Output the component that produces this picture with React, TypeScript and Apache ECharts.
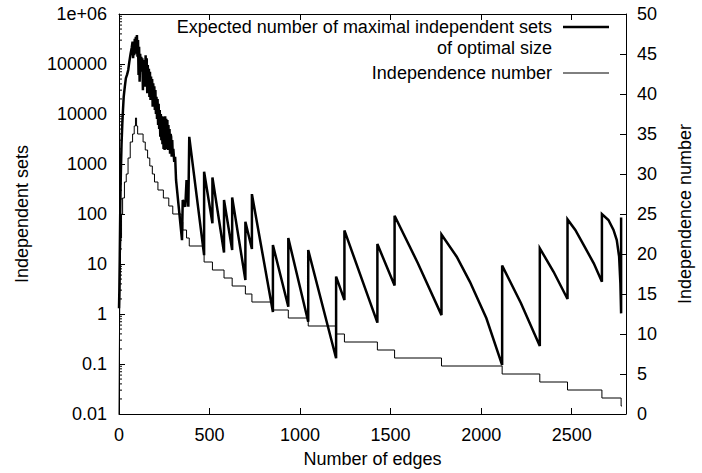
import React, { useEffect, useRef } from "react";
import * as echarts from "echarts";

// ---- Axis tick labels ----
const xTickValues = [0, 500, 1000, 1500, 2000, 2500];
const leftTickLabels = ["0.01", "0.1", "1", "10", "100", "1000", "10000", "100000", "1e+06"];
const rightTickLabels = ["0", "5", "10", "15", "20", "25", "30", "35", "40", "45", "50"];

// ---- Expected number of maximal independent sets of optimal size (thick line) ----
// rising edge and noisy peak band
const peakEdges = [
  0, 2, 4, 6, 8, 11, 14, 18, 22, 26, 32, 38, 45, 51, 57, 64, 70, 75,
  78, 81, 84, 87, 90, 93, 96, 99, 102, 105, 108, 111, 114, 117, 120, 123, 126, 129,
  132, 135, 138, 141, 144, 147, 150, 153, 156, 159, 162, 165, 168, 171, 174, 177,
  180, 183, 186, 189, 192, 195, 198, 201, 204, 207, 210, 213, 216, 219, 222, 225,
  228, 231, 234, 237, 240, 243, 246, 249, 252, 255, 258, 261, 264, 267, 270, 273,
  276, 279, 282, 285, 288, 291, 294, 297, 300, 305, 310, 315,
];
const peakSets = [
  1.3, 3, 12, 60, 250, 900, 2500, 6000, 12000, 22000, 35000, 52000, 62000, 76000, 110000, 160000, 210000, 280000,
  130000, 260000, 150000, 320000, 180000, 350000, 160000, 380000, 140000, 300000, 60000, 220000, 44000, 160000, 70000, 140000, 76000, 130000,
  30000, 110000, 40000, 120000, 35000, 150000, 50000, 130000, 26000, 95000, 30000, 80000, 22000, 70000, 19000, 56000,
  20000, 50000, 14000, 41000, 16000, 36000, 12000, 30000, 10000, 22000, 8000, 20000, 6000, 16000, 5000, 12000,
  3500, 10000, 3000, 9000, 2500, 8900, 2000, 7000, 1900, 9000, 2200, 8000, 2000, 7600, 1900, 6000,
  2000, 5000, 1600, 4000, 3500, 1400, 3000, 1400, 2000, 1100, 1400, 480,
];
// sawtooth part
const sawEdges = [
  348, 352, 366, 373, 383, 388, 470, 470, 516, 516, 580, 580, 625, 625, 698, 698, 734, 734,
  850, 850, 935, 935, 1045, 1045, 1199, 1199, 1245, 1245, 1427, 1427, 1522, 1522, 1650, 1781,
  1781, 1865, 1938, 2029, 2116, 2116, 2220, 2324, 2324, 2400, 2477, 2477, 2520, 2572, 2622, 2667,
  2667, 2703, 2731, 2749, 2762, 2769, 2773, 2773,
];
const sawSets = [
  30, 190, 140, 480, 140, 3500, 15, 700, 65, 540, 17, 190, 19, 215, 4.8, 70, 20, 250,
  1.1, 24, 1.4, 33, 0.7, 19, 0.13, 5.6, 1.9, 47, 0.67, 25, 3.7, 92, 10.5, 0.95,
  39, 14, 4.4, 0.82, 0.095, 9.3, 1.64, 0.23, 20.6, 7.0, 2.0, 78, 48, 22, 10.3, 4.4,
  100, 76, 48, 30, 14, 4.1, 1.03, 85,
];

// ---- Independence number (thin step line, right axis) ----
const indepEdges = [
  0, 2, 4, 7, 10, 14, 20, 30, 40, 50, 62, 75, 84, 91, 97, 103, 133, 145, 158, 170,
  184, 196, 215, 245, 275, 297, 343, 352, 373, 388, 470, 516, 580, 625, 698, 734,
  850, 935, 1045, 1199, 1245, 1427, 1522, 1781, 2116, 2324, 2477, 2667, 2773, 2778,
];
const indepValues = [
  0, 8, 14, 19, 22, 25, 27, 29, 30, 32, 34, 35, 36, 37, 36, 35, 34, 33, 32, 31,
  30, 29, 28, 27, 26, 25, 24, 23, 22, 21, 19, 18, 17, 16, 15, 14,
  13, 12, 11, 10, 9, 8, 7, 6, 5, 4, 3, 2, 1, 1,
];

const FONT = "Liberation Sans, Arial, Helvetica, sans-serif";
const FS = 18;

export default function App() {
  const ref = useRef<HTMLDivElement>(null);

  useEffect(() => {
    if (!ref.current) return;
    const chart = echarts.init(ref.current, undefined, { renderer: "svg" });

    const thick = peakEdges
      .map((e, i) => [e, peakSets[i]])
      .concat(sawEdges.map((e, i) => [e, sawSets[i]]));
    const thin = indepEdges.map((e, i) => [e, indepValues[i]]);

    const minorVals: number[] = [];
    for (let k = -2; k < 6; k++) {
      for (let m = 2; m <= 9; m++) minorVals.push(m * Math.pow(10, k));
    }

    const axisLineStyle = { color: "#000", width: 1 };
    const labelStyle = { color: "#000", fontSize: FS, fontFamily: FONT };

    chart.setOption({
      animation: false,
      backgroundColor: "#fff",
      textStyle: { fontFamily: FONT },
      grid: { left: 119, right: 71, top: 14, bottom: 59, containLabel: false },
      xAxis: [
        {
          type: "value",
          position: "bottom",
          min: 0,
          max: 2800,
          interval: 500,
          axisLine: { show: true, onZero: false, lineStyle: axisLineStyle },
          axisTick: { show: true, inside: true, length: 6, lineStyle: axisLineStyle },
          axisLabel: {
            ...labelStyle,
            margin: 12,
            showMaxLabel: false,
            formatter: (v: number) => (xTickValues.indexOf(v) >= 0 ? String(v) : ""),
          },
          splitLine: { show: false },
          name: "Number of edges",
          nameLocation: "middle",
          nameGap: 36,
          nameTextStyle: { ...labelStyle },
        },
        {
          type: "value",
          position: "top",
          min: 0,
          max: 2800,
          interval: 500,
          axisLine: { show: true, onZero: false, lineStyle: axisLineStyle },
          axisTick: { show: true, inside: true, length: 6, lineStyle: axisLineStyle },
          axisLabel: { show: false },
          splitLine: { show: false },
        },
      ],
      yAxis: [
        {
          type: "log",
          logBase: 10,
          min: 0.01,
          max: 1000000,
          splitNumber: 8,
          position: "left",
          axisLine: { show: true, onZero: false, lineStyle: axisLineStyle },
          axisTick: { show: true, inside: true, length: 6, lineStyle: axisLineStyle },
          axisLabel: {
            ...labelStyle,
            margin: 12,
            formatter: (v: number) => {
              const idx = Math.round(Math.log10(v)) + 2;
              return leftTickLabels[idx] ?? "";
            },
          },
          splitLine: { show: false },
          name: "Independent sets",
          nameLocation: "middle",
          nameRotate: 90,
          nameGap: 88,
          nameTextStyle: { ...labelStyle },
        },
        {
          type: "value",
          min: 0,
          max: 50,
          interval: 5,
          position: "right",
          axisLine: { show: true, onZero: false, lineStyle: axisLineStyle },
          axisTick: { show: true, inside: true, length: 6, lineStyle: axisLineStyle },
          axisLabel: {
            ...labelStyle,
            margin: 11,
            formatter: (v: number) => rightTickLabels[Math.round(v / 5)] ?? "",
          },
          splitLine: { show: false },
          name: "Independence number",
          nameLocation: "middle",
          nameRotate: 90,
          nameGap: 50,
          nameTextStyle: { ...labelStyle },
        },
      ],
      series: [
        {
          type: "custom",
          xAxisIndex: 0,
          yAxisIndex: 0,
          silent: true,
          clip: false,
          data: minorVals.map((v) => [0, v]),
          renderItem: (params: any, api: any) => {
            const p = api.coord([0, api.value(1)]);
            return {
              type: "line",
              shape: { x1: p[0], y1: p[1], x2: p[0] + 3, y2: p[1] },
              style: { stroke: "#000", lineWidth: 1 },
            };
          },
        },
        {
          name: "Expected",
          type: "line",
          xAxisIndex: 0,
          yAxisIndex: 0,
          data: thick,
          showSymbol: false,
          symbol: "none",
          lineStyle: { color: "#000", width: 2.5, join: "miter" },
          z: 3,
        },
        {
          name: "Independence number",
          type: "line",
          xAxisIndex: 0,
          yAxisIndex: 1,
          data: thin,
          step: "end",
          showSymbol: false,
          symbol: "none",
          lineStyle: { color: "#000", width: 1 },
          z: 4,
        },
      ],
      graphic: [
        {
          type: "text",
          style: {
            text: "Expected number of maximal independent sets",
            x: 552, y: 27,
            align: "right", verticalAlign: "middle",
            textAlign: "right", textVerticalAlign: "middle",
            fill: "#000", font: `${FS}px ${FONT}`,
          },
        },
        {
          type: "text",
          style: {
            text: "of optimal size",
            x: 552, y: 48,
            align: "right", verticalAlign: "middle",
            textAlign: "right", textVerticalAlign: "middle",
            fill: "#000", font: `${FS}px ${FONT}`,
          },
        },
        {
          type: "text",
          style: {
            text: "Independence number",
            x: 552, y: 73,
            align: "right", verticalAlign: "middle",
            textAlign: "right", textVerticalAlign: "middle",
            fill: "#000", font: `${FS}px ${FONT}`,
          },
        },
        {
          type: "line",
          shape: { x1: 563, y1: 27, x2: 609, y2: 27 },
          style: { stroke: "#000", lineWidth: 2.5 },
        },
        {
          type: "line",
          shape: { x1: 563, y1: 73, x2: 609, y2: 73 },
          style: { stroke: "#000", lineWidth: 1 },
        },
      ],
    });

    return () => chart.dispose();
  }, []);

  return (
    <div
      ref={ref}
      style={{ position: "fixed", left: 0, top: 0, width: 702, height: 473, background: "#fff" }}
    />
  );
}
